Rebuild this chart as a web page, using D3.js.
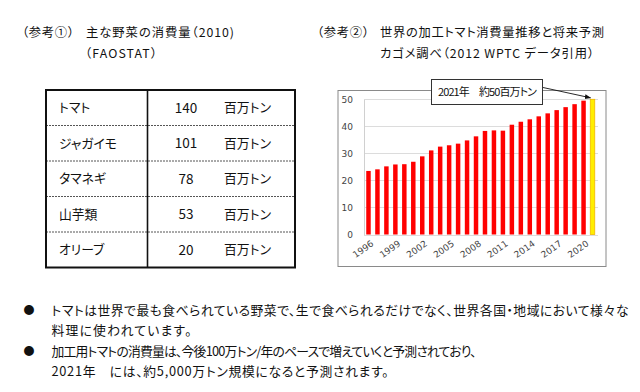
<!DOCTYPE html>
<html><head><meta charset="utf-8">
<script src="https://cdn.jsdelivr.net/npm/d3@7"></script>
<style>
html,body{margin:0;padding:0;background:#fff;}
svg{display:block;}
.jp{font-family:"Noto Sans CJK JP",sans-serif;font-feature-settings:"palt";fill:#111;}
</style></head>
<body>
<svg id="c" width="640" height="392"></svg>
<script>
// ---- data ----
const vegNames = ["トマト", "ジャガイモ", "タマネギ", "山芋類", "オリーブ"];
const vegValues = [140, 101, 78, 53, 20];
const vegUnit = "百万トン";

const years = [1996,1997,1998,1999,2000,2001,2002,2003,2004,2005,2006,2007,2008,
               2009,2010,2011,2012,2013,2014,2015,2016,2017,2018,2019,2020,2021];
const consumption = [23.5,24.1,25.2,25.9,26.0,26.9,28.9,31.1,32.5,33.0,33.6,34.8,36.3,
                     38.3,38.5,38.4,40.6,41.7,42.6,43.7,44.8,46.0,47.1,48.2,49.5,50.0];
const forecastYears = [2021];
const yTicks = [0, 10, 20, 30, 40, 50];
const xTickLabels = [1996, 1999, 2002, 2005, 2008, 2011, 2014, 2017, 2020];
const calloutText = "2021年　約50百万トン";

const titleLeft1a = "（参考①）";
const titleLeft1b = "主な野菜の消費量（2010)";
const titleLeft2 = "（FAOSTAT）";
const titleRight1a = "（参考②）";
const titleRight1b = "世界の加工トマト消費量推移と将来予測";
const titleRight2 = "カゴメ調べ（2012 WPTC データ引用）";

const bulletLines = [
  {bullet: true,  text: "トマトは世界で最も食べられている野菜で、生で食べられるだけでなく、世界各国・地域において様々な"},
  {bullet: false, text: "料理に使われています。"},
  {bullet: true,  text: "加工用トマトの消費量は、今後100万トン/年のペースで増えていくと予測されており、"},
  {bullet: false, text: "2021年　には、約5,000万トン規模になると予測されます。"}
];
const bulletWidths = [577, 140, 425, 337];

// ---- drawing ----
const svg = d3.select("#c");

const tSize = 12.3;
function txt(x, y, s, size, len) {
  const t = svg.append("text").attr("class", "jp").attr("x", x).attr("y", y)
    .attr("font-size", size).text(s);
  if (len) t.attr("textLength", len).attr("lengthAdjust", "spacing");
  return t;
}
txt(22, 37, titleLeft1a, tSize, 52);
txt(86, 37, titleLeft1b, tSize, 148);
txt(85, 57.5, titleLeft2, tSize, 72);
txt(317, 37, titleRight1a, tSize, 52);
txt(380, 37, titleRight1b, tSize, 224);
txt(380, 57.5, titleRight2, tSize, 214);

// ---- table ----
const tbl = {x0: 46, x1: 295, y0: 90, y1: 267.5, xDiv: 147.5};
const rowScale = d3.scaleBand().domain(vegNames).range([tbl.y0, tbl.y1]);
const tg = svg.append("g");
tg.selectAll("line.sep").data(vegNames.slice(1)).join("line")
  .attr("x1", tbl.x0).attr("x2", tbl.x1)
  .attr("y1", d => rowScale(d)).attr("y2", d => rowScale(d))
  .attr("stroke", "#555").attr("stroke-width", 1).attr("stroke-dasharray", "2,1");
tg.append("line").attr("x1", tbl.xDiv).attr("x2", tbl.xDiv)
  .attr("y1", tbl.y0).attr("y2", tbl.y1).attr("stroke", "#111").attr("stroke-width", 1.6);
tg.append("rect").attr("x", tbl.x0).attr("y", tbl.y0)
  .attr("width", tbl.x1 - tbl.x0).attr("height", tbl.y1 - tbl.y0)
  .attr("fill", "none").attr("stroke", "#111").attr("stroke-width", 2);
const rows = tg.selectAll("g.row").data(vegNames).join("g")
  .attr("transform", d => `translate(0,${rowScale(d) + rowScale.bandwidth() / 2})`);
rows.append("text").attr("class", "jp").attr("x", 59).attr("dy", "0.36em")
  .attr("font-size", 12.8).text(d => d);
rows.append("text").attr("class", "jp").attr("x", 186).attr("dy", "0.36em")
  .attr("text-anchor", "middle").attr("font-size", 13.5).text((d, i) => vegValues[i]);
rows.append("text").attr("class", "jp").attr("x", 224).attr("dy", "0.36em")
  .attr("font-size", 12.8).attr("textLength", 47).attr("lengthAdjust", "spacing").text(vegUnit);

// ---- bar chart ----
const frame = {x: 338, y: 90.5, w: 268, h: 176};
const plot = {l: 364, r: 597, t: 99.3, b: 234.5};
const x = d3.scaleBand().domain(years).range([plot.l, plot.r]).paddingInner(0.5).paddingOuter(0.25);
const y = d3.scaleLinear().domain([0, 50]).range([plot.b, plot.t]);

svg.append("rect").attr("x", frame.x).attr("y", frame.y).attr("width", frame.w).attr("height", frame.h)
  .attr("fill", "#fff").attr("stroke", "#8a8a8a").attr("stroke-width", 1);

svg.append("g").selectAll("line").data(yTicks).join("line")
  .attr("x1", plot.l).attr("x2", plot.r + 1)
  .attr("y1", d => Math.round(y(d)) + 0.5).attr("y2", d => Math.round(y(d)) + 0.5)
  .attr("stroke", "#dcdcdc").attr("stroke-width", 1);

const yAxis = svg.append("g").attr("transform", `translate(${plot.l},0)`)
  .call(d3.axisLeft(y).tickValues(yTicks).tickSize(0).tickPadding(11));
yAxis.select(".domain").attr("stroke", "#d0d0d0");
yAxis.selectAll("text").attr("font-family", "DejaVu Sans, Verdana, sans-serif")
  .attr("font-size", 9).attr("fill", "#444");

svg.append("g").selectAll("rect").data(years).join("rect")
  .attr("x", d => x(d)).attr("width", x.bandwidth())
  .attr("y", (d, i) => y(consumption[i]))
  .attr("height", (d, i) => y(0) - y(consumption[i]))
  .attr("fill", d => forecastYears.includes(d) ? "#ffee00" : "#ff0000")
  .attr("stroke", d => forecastYears.includes(d) ? "#f2b600" : "none")
  .attr("stroke-width", 0.8);

svg.append("g").selectAll("text").data(xTickLabels).join("text")
  .attr("transform", d => `translate(${x(d) + x.bandwidth() / 2 + 4},${plot.b + 8}) rotate(-35)`)
  .attr("text-anchor", "end").attr("dy", "0.35em")
  .attr("font-family", "DejaVu Sans, Verdana, sans-serif").attr("font-size", 9)
  .attr("fill", "#444").text(d => d);

// callout
const defs = svg.append("defs");
defs.append("marker").attr("id", "ah").attr("viewBox", "0 0 10 10").attr("refX", 9).attr("refY", 5)
  .attr("markerWidth", 7).attr("markerHeight", 7).attr("orient", "auto")
  .append("path").attr("d", "M0,1 L10,5 L0,9 Z").attr("fill", "#111");
const last = years[years.length - 1];
svg.append("line").attr("x1", 543).attr("y1", 87.5)
  .attr("x2", x(last) + x.bandwidth() / 2 - 2).attr("y2", y(consumption[consumption.length - 1]) - 1.5)
  .attr("stroke", "#111").attr("stroke-width", 0.9).attr("marker-end", "url(#ah)");
svg.append("rect").attr("x", 431.5).attr("y", 79.5).attr("width", 111).attr("height", 25)
  .attr("fill", "#fff").attr("stroke", "#333").attr("stroke-width", 1);
svg.append("text").attr("class", "jp").attr("x", 438).attr("y", 96)
  .attr("font-size", 11).attr("textLength", 99).attr("lengthAdjust", "spacing").text(calloutText);

// ---- bullets ----
const lineY = d3.scaleBand().domain(d3.range(bulletLines.length)).range([300, 382]);
const bl = svg.append("g").selectAll("g").data(bulletLines).join("g")
  .attr("transform", (d, i) => `translate(0,${lineY(i) + lineY.bandwidth() / 2})`);
bl.filter(d => d.bullet).append("text").attr("class", "jp").attr("x", 29).attr("dy", "0.36em")
  .attr("text-anchor", "middle").attr("font-size", 11).text("●");
bl.append("text").attr("class", "jp").attr("x", 51.5).attr("dy", "0.36em")
  .attr("font-size", 12.8).attr("textLength", (d, i) => bulletWidths[i]).attr("lengthAdjust", "spacing")
  .text(d => d.text);
</script>
</body></html>
